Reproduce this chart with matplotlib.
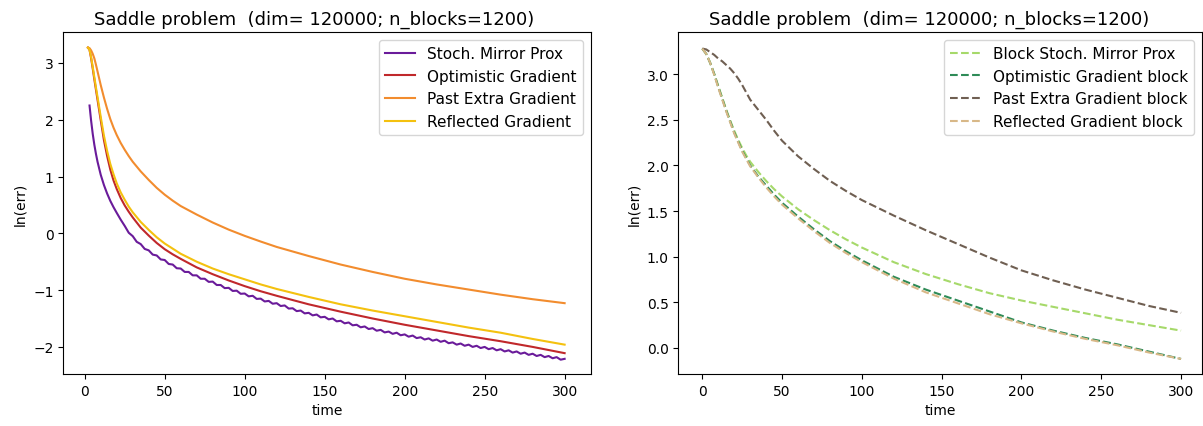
import matplotlib
matplotlib.use("Agg")
import matplotlib.pyplot as plt

# ---------------- data: left panel ----------------
t_smp = [3, 4, 5, 6, 7, 8, 10, 12, 14, 16, 18, 20, 22.5, 25,
         27.5, 30, 32.5, 35, 37.5, 40, 42.5, 45, 47.5, 50, 52.5, 55, 57.5, 60,
         62.5, 65, 67.5, 70, 72.5, 75, 77.5, 80, 82.5, 85, 87.5, 90, 92.5, 95,
         97.5, 100, 102.5, 105, 107.5, 110, 112.5, 115, 117.5, 120, 122.5, 125,
         127.5, 130, 132.5, 135, 137.5, 140, 142.5, 145, 147.5, 150, 152.5, 155,
         157.5, 160, 162.5, 165, 167.5, 170, 172.5, 175, 177.5, 180, 182.5, 185,
         187.5, 190, 192.5, 195, 197.5, 200, 202.5, 205, 207.5, 210, 212.5, 215,
         217.5, 220, 222.5, 225, 227.5, 230, 232.5, 235, 237.5, 240, 242.5, 245,
         247.5, 250, 252.5, 255, 257.5, 260, 262.5, 265, 267.5, 270, 272.5, 275,
         277.5, 280, 282.5, 285, 287.5, 290, 292.5, 295, 297.5, 300]
smp = [2.25, 1.98, 1.75, 1.56, 1.40, 1.26, 1.03, 0.85, 0.70, 0.57, 0.46, 0.36, 0.24, 0.13,
       0.01, -0.05, -0.15, -0.19, -0.275, -0.30, -0.375, -0.39, -0.46, -0.47, -0.54, -0.55,
       -0.615, -0.62, -0.68, -0.68, -0.74, -0.74, -0.80, -0.80, -0.855, -0.85, -0.91, -0.91,
       -0.965, -0.96, -1.015, -1.01, -1.065, -1.06, -1.11, -1.10, -1.155, -1.15, -1.20,
       -1.19, -1.24, -1.23, -1.28, -1.27, -1.325, -1.32, -1.37, -1.36, -1.41, -1.40,
       -1.445, -1.43, -1.48, -1.47, -1.515, -1.50, -1.55, -1.54, -1.585, -1.57, -1.62,
       -1.61, -1.655, -1.64, -1.685, -1.67, -1.715, -1.70, -1.745, -1.73, -1.77, -1.75,
       -1.795, -1.78, -1.82, -1.80, -1.845, -1.83, -1.87, -1.85, -1.89, -1.87, -1.91,
       -1.89, -1.935, -1.92, -1.96, -1.94, -1.98, -1.96, -2.00, -1.98, -2.02, -2.00,
       -2.04, -2.02, -2.06, -2.04, -2.08, -2.06, -2.10, -2.08, -2.12, -2.10, -2.14,
       -2.12, -2.16, -2.14, -2.18, -2.16, -2.20, -2.18, -2.225, -2.21]

t_det = [2, 3, 4, 5, 6, 7, 8, 10, 12, 14, 16, 18, 20, 22.5, 25, 27.5, 30, 35, 40,
         45, 50, 55, 60, 70, 80, 90, 100, 110, 120, 140, 160, 180, 200, 220, 240,
         260, 280, 300]
opt = [3.27, 3.23, 3.08, 2.90, 2.71, 2.53, 2.35, 1.99, 1.64, 1.36, 1.12, 0.93,
       0.78, 0.62, 0.49, 0.38, 0.28, 0.10, -0.04, -0.17, -0.28, -0.37, -0.45,
       -0.60, -0.72, -0.83, -0.93, -1.02, -1.10, -1.25, -1.38, -1.50, -1.61,
       -1.71, -1.81, -1.90, -2.00, -2.11]
past = [3.27, 3.26, 3.22, 3.16, 3.08, 2.97, 2.85, 2.61, 2.39, 2.19, 2.01, 1.86,
        1.73, 1.59, 1.47, 1.36, 1.26, 1.09, 0.94, 0.80, 0.68, 0.575, 0.48, 0.33,
        0.19, 0.065, -0.045, -0.145, -0.24, -0.40, -0.55, -0.68, -0.80, -0.90,
        -0.99, -1.08, -1.16, -1.23]
refl = [3.27, 3.23, 3.10, 2.93, 2.75, 2.57, 2.40, 2.05, 1.72, 1.45, 1.22, 1.04,
        0.88, 0.72, 0.59, 0.47, 0.37, 0.20, 0.06, -0.07, -0.18, -0.27, -0.36,
        -0.50, -0.62, -0.72, -0.81, -0.90, -0.98, -1.12, -1.25, -1.36, -1.46,
        -1.56, -1.66, -1.75, -1.86, -1.96]

# ---------------- data: right panel ----------------
t_blk = [0, 2.5, 5, 7.5, 10, 12.5, 15, 17.5, 20, 22.5, 25, 27.5, 30, 35, 40, 45,
         50, 60, 70, 80, 90, 100, 120, 140, 160, 180, 200, 220, 240, 260, 280, 300]
bsmp = [3.28, 3.22, 3.12, 3.00, 2.87, 2.74, 2.61, 2.49, 2.38, 2.28, 2.19, 2.11,
        2.04, 1.93, 1.83, 1.74, 1.66, 1.52, 1.40, 1.29, 1.19, 1.10, 0.94, 0.81,
        0.70, 0.60, 0.52, 0.45, 0.38, 0.31, 0.25, 0.19]
opt_b = [3.28, 3.22, 3.12, 3.00, 2.86, 2.73, 2.60, 2.48, 2.36, 2.26, 2.16, 2.08,
         2.00, 1.88, 1.78, 1.68, 1.59, 1.44, 1.30, 1.17, 1.06, 0.96, 0.78, 0.64,
         0.52, 0.40, 0.28, 0.19, 0.11, 0.04, -0.04, -0.12]
past_b = [3.28, 3.27, 3.24, 3.21, 3.17, 3.14, 3.10, 3.06, 3.01, 2.95, 2.88,
          2.80, 2.72, 2.61, 2.50, 2.38, 2.27, 2.10, 1.96, 1.83, 1.72, 1.62,
          1.45, 1.29, 1.14, 0.99, 0.85, 0.74, 0.64, 0.55, 0.46, 0.385]
refl_b = [3.28, 3.22, 3.12, 2.99, 2.85, 2.72, 2.59, 2.47, 2.35, 2.25, 2.15,
          2.07, 1.99, 1.87, 1.76, 1.66, 1.57, 1.42, 1.28, 1.15, 1.04, 0.94,
          0.76, 0.61, 0.49, 0.37, 0.27, 0.18, 0.10, 0.03, -0.05, -0.12]

title = "Saddle problem  (dim= 120000; n_blocks=1200)"

W, H = 1203, 427
fig = plt.figure(figsize=(W / 100, H / 100), dpi=100)

ax1 = fig.add_axes([63.3 / W, (H - 375) / H, 527.4 / W, 341.7 / H])
ax2 = fig.add_axes([678.3 / W, (H - 375) / H, 523.5 / W, 341.7 / H])

ax1.plot(t_smp, smp, color="#6a1b9a", lw=1.5, label="Stoch. Mirror Prox")
ax1.plot(t_det, opt, color="#c0282b", lw=1.5, label="Optimistic Gradient")
ax1.plot(t_det, past, color="#f28c2e", lw=1.5, label="Past Extra Gradient")
ax1.plot(t_det, refl, color="#f4c10f", lw=1.5, label="Reflected Gradient")
ax1.set_xlim(-13.4, 316.3)
ax1.set_ylim(-2.477, 3.539)
ax1.set_title(title, fontsize=13, x=0.475)
ax1.set_xlabel("time")
ax1.set_ylabel("ln(err)")
ax1.legend(loc="upper right", fontsize=11)

ax2.plot(t_blk, bsmp, "--", color="#a6d96a", lw=1.5, label="Block Stoch. Mirror Prox")
ax2.plot(t_blk, opt_b, "--", color="#2e8b57", lw=1.5, label="Optimistic Gradient block")
ax2.plot(t_blk, past_b, "--", color="#6f5f52", lw=1.5, label="Past Extra Gradient block")
ax2.plot(t_blk, refl_b, "--", color="#d8b888", lw=1.5, label="Reflected Gradient block")
ax2.set_xlim(-15.05, 313.0)
ax2.set_ylim(-0.285, 3.458)
ax2.set_title(title, fontsize=13, x=0.479)
ax2.set_xlabel("time")
ax2.set_ylabel("ln(err)")
ax2.legend(loc="upper right", fontsize=11)

fig.savefig("out.png", dpi=100)
